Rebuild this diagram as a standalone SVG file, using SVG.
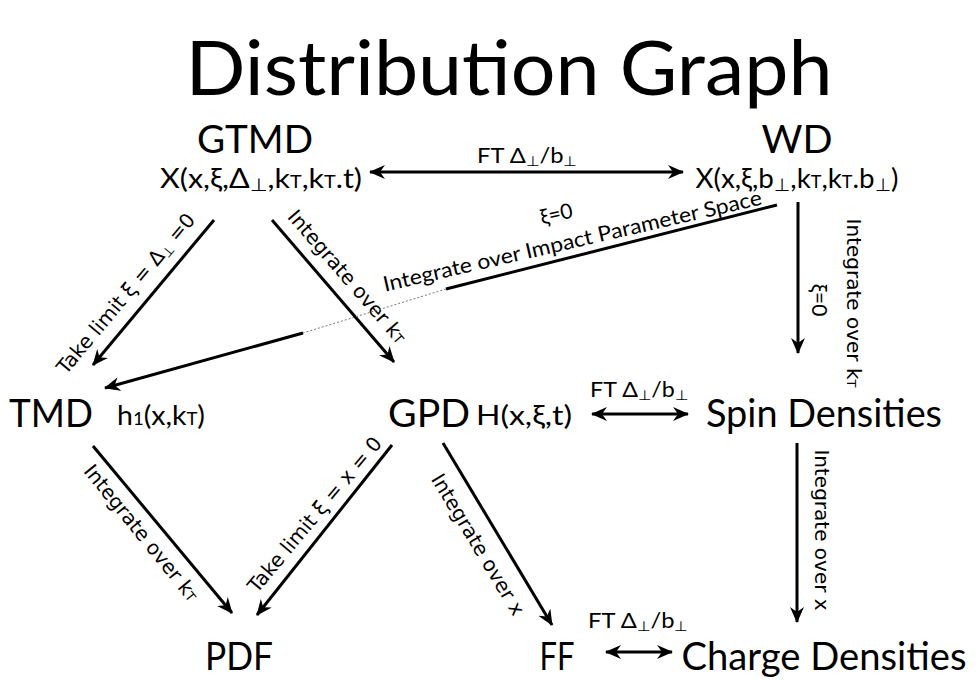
<svg xmlns="http://www.w3.org/2000/svg" width="977" height="681" viewBox="0 0 977 681">
<defs>
<marker id="ah" markerUnits="userSpaceOnUse" markerWidth="16" markerHeight="14" viewBox="0 0 16 14" refX="15" refY="7" orient="auto-start-reverse">
<path d="M0,0 L16,7 L0,14 L5,7 z" fill="#000"/>
</marker>
<style>
.n{font-family:Lato,"Open Sans",sans-serif;fill:#000}
.big{font-size:39px}
.f{font-size:27px}
.ft{font-size:21px}
.lb{font-family:"DejaVu Sans",sans-serif;font-size:20px;fill:#000}
.lg{font-family:Lato,sans-serif;font-size:21px;fill:#000}
.s{font-size:65%}
.c{stroke:#000;stroke-width:3;fill:none}
.d{stroke:#777;stroke-width:1;stroke-dasharray:2,2;fill:none}
</style>
</defs>
<rect width="977" height="681" fill="#fff"/>
<text class="n" x="509" y="95" font-size="76" text-anchor="middle" textLength="647" lengthAdjust="spacingAndGlyphs">Distribution Graph</text>

<g id="gtmd">
<text class="n big" x="255" y="153" text-anchor="middle" textLength="116" lengthAdjust="spacingAndGlyphs">GTMD</text>
<text class="n f" x="261" y="188" text-anchor="middle" textLength="202" lengthAdjust="spacingAndGlyphs">X(x,ξ,Δ<tspan class="s" dy="3">⊥</tspan><tspan dy="-3">,k</tspan><tspan class="s">T</tspan>,k<tspan class="s">T</tspan>.t)</text>
</g>
<g id="wd">
<text class="n big" x="797" y="153" text-anchor="middle" textLength="71" lengthAdjust="spacingAndGlyphs">WD</text>
<text class="n f" x="797" y="188" text-anchor="middle" textLength="203" lengthAdjust="spacingAndGlyphs">X(x,ξ,b<tspan class="s" dy="3">⊥</tspan><tspan dy="-3">,k</tspan><tspan class="s">T</tspan>,k<tspan class="s">T</tspan>.b<tspan class="s" dy="3">⊥</tspan><tspan dy="-3">)</tspan></text>
</g>
<g id="tmd">
<text class="n big" x="51" y="427" text-anchor="middle" textLength="84" lengthAdjust="spacingAndGlyphs">TMD</text>
<text class="n f" x="161" y="425" text-anchor="middle" textLength="88" lengthAdjust="spacingAndGlyphs">h<tspan class="s">1</tspan>(x,k<tspan class="s">T</tspan>)</text>
</g>
<g id="gpd">
<text class="n big" x="429" y="427" text-anchor="middle" textLength="82" lengthAdjust="spacingAndGlyphs">GPD</text>
<text class="n f" x="524" y="425" text-anchor="middle" textLength="96" lengthAdjust="spacingAndGlyphs">H(x,ξ,t)</text>
</g>
<g id="spin">
<text class="n big" x="824" y="427" text-anchor="middle" textLength="236" lengthAdjust="spacingAndGlyphs">Spin Densities</text>
</g>
<g id="pdf">
<text class="n big" x="239" y="670" text-anchor="middle" textLength="68" lengthAdjust="spacingAndGlyphs">PDF</text>
</g>
<g id="ff">
<text class="n big" x="557" y="670" text-anchor="middle" textLength="35" lengthAdjust="spacingAndGlyphs">FF</text>
</g>
<g id="charge">
<text class="n big" x="824" y="670" text-anchor="middle" textLength="285" lengthAdjust="spacingAndGlyphs">Charge Densities</text>
</g>

<g id="connectors">
<line class="c" x1="370" y1="172" x2="683" y2="172" marker-start="url(#ah)" marker-end="url(#ah)"/>
<text class="n ft" x="527" y="163" text-anchor="middle" textLength="100" lengthAdjust="spacingAndGlyphs">FT Δ<tspan class="s" dy="3">⊥</tspan><tspan dy="-3">/b</tspan><tspan class="s" dy="3">⊥</tspan></text>

<line class="c" x1="214" y1="220" x2="93" y2="365" marker-end="url(#ah)"/>
<text class="lb" transform="translate(131,298) rotate(-50)" text-anchor="middle">Take limit ξ = Δ<tspan class="s" dy="3">⊥</tspan><tspan dy="-3"> =0</tspan></text>

<line class="c" x1="272" y1="220" x2="394" y2="362" marker-end="url(#ah)"/>
<text class="lb" transform="translate(342,281) rotate(49)" text-anchor="middle">Integrate over k<tspan class="s">T</tspan></text>

<path class="c" d="M777,205 L446,289"/>
<path class="d" d="M446,289 L303,333"/>
<path class="c" d="M303,333 L105,388" marker-end="url(#ah)"/>
<text class="lg" transform="translate(574,248) rotate(-13)" text-anchor="middle" textLength="388" lengthAdjust="spacingAndGlyphs">Integrate over Impact Parameter Space</text>
<text class="lg" transform="translate(558,221) rotate(-13)" text-anchor="middle" font-size="23">ξ=0</text>

<line class="c" x1="798" y1="202" x2="798" y2="353" marker-end="url(#ah)"/>
<text class="lb" transform="translate(847,303) rotate(90)" text-anchor="middle">Integrate over k<tspan class="s">T</tspan></text>
<text class="lg" transform="translate(812,300) rotate(90)" text-anchor="middle" font-size="22">ξ=0</text>

<line class="c" x1="592" y1="414" x2="688" y2="414" marker-start="url(#ah)" marker-end="url(#ah)"/>
<text class="n ft" x="639" y="397" text-anchor="middle" textLength="98" lengthAdjust="spacingAndGlyphs">FT Δ<tspan class="s" dy="3">⊥</tspan><tspan dy="-3">/b</tspan><tspan class="s" dy="3">⊥</tspan></text>

<line class="c" x1="797" y1="443" x2="797" y2="622" marker-end="url(#ah)"/>
<text class="lb" transform="translate(815,530) rotate(90)" text-anchor="middle">Integrate over x</text>

<line class="c" x1="93" y1="446" x2="232" y2="613" marker-end="url(#ah)"/>
<text class="lb" transform="translate(136,537) rotate(51)" text-anchor="middle">Integrate over k<tspan class="s">T</tspan></text>

<line class="c" x1="392" y1="445" x2="257" y2="615" marker-end="url(#ah)"/>
<text class="lb" transform="translate(320,519) rotate(-50)" text-anchor="middle">Take limit ξ = x = 0</text>

<line class="c" x1="443" y1="443" x2="552" y2="625" marker-end="url(#ah)"/>
<text class="lb" transform="translate(472,548) rotate(59)" text-anchor="middle">Integrate over x</text>

<line class="c" x1="606" y1="652" x2="672" y2="652" marker-start="url(#ah)" marker-end="url(#ah)"/>
<text class="n ft" x="638" y="628" text-anchor="middle" textLength="100" lengthAdjust="spacingAndGlyphs">FT Δ<tspan class="s" dy="3">⊥</tspan><tspan dy="-3">/b</tspan><tspan class="s" dy="3">⊥</tspan></text>
</g>
</svg>
